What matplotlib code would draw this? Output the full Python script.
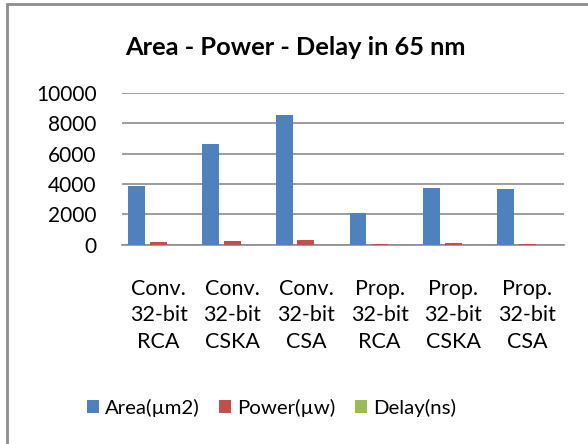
import numpy as np
import matplotlib
matplotlib.use('Agg')
import matplotlib.pyplot as plt
from matplotlib.patches import Rectangle

# values
categories = ['Conv.\n32-bit\nRCA', 'Conv.\n32-bit\nCSKA', 'Conv.\n32-bit\nCSA',
              'Prop.\n32-bit\nRCA', 'Prop.\n32-bit\nCSKA', 'Prop.\n32-bit\nCSA']
area = [3870, 6640, 8550, 2070, 3760, 3650]
power = [190, 210, 330, 10, 90, 40]
delay = [8, 6, 5, 4, 4, 3]
series_names = ['Area(µm2)', 'Power(µw)', 'Delay(ns)']
colors = ['#4F81BD', '#C0504D', '#9BBB59']

plt.rcParams['font.family'] = ['Lato', 'DejaVu Sans']

fig = plt.figure(figsize=(5.88, 4.44), dpi=100)
ax = fig.add_axes([0.207, 0.449, 0.752, 0.3415])

x = np.arange(len(categories))
step = 0.294
width = 0.23
for i, (vals, name, c) in enumerate(zip([area, power, delay], series_names, colors)):
    ax.bar(x + (i - 1) * step, vals, width, color=c, label=name, zorder=3)

ax.set_xlim(-0.5, len(categories) - 0.5)
ax.set_ylim(0, 10000)
ax.set_yticks(range(0, 10001, 2000))
ax.yaxis.grid(True, color='#8c8c8c', linewidth=1.2, zorder=0)
ax.set_xticks(x)
ax.set_xticklabels(categories, fontsize=15.5, linespacing=1.38)
ax.tick_params(axis='y', labelsize=15, length=0, pad=18)
ax.tick_params(axis='x', length=0, pad=25)
for s in ['top', 'right', 'left']:
    ax.spines[s].set_visible(False)
ax.spines['bottom'].set_color('#8c8c8c')
ax.spines['bottom'].set_linewidth(1.2)

fig.text(0.502, 0.893, 'Area - Power - Delay in 65 nm', ha='center', va='center',
         fontsize=18.3, fontweight='bold')

handles, labels = ax.get_legend_handles_labels()
fig.legend(handles, labels, loc='center', bbox_to_anchor=(0.462, 0.081), ncol=3,
           frameon=False, fontsize=14.7, handlelength=0.6, handleheight=0.6,
           handletextpad=0.3, columnspacing=0.95)

# chart border (only top and left edges show in the crop)
fig.patches.append(Rectangle((7 / 588, -0.1), 1.2, 1 - 4.5 / 444 + 0.1,
                             transform=fig.transFigure, fill=False,
                             edgecolor='#8c8c8c', linewidth=2))

fig.savefig('out.png', dpi=100)
